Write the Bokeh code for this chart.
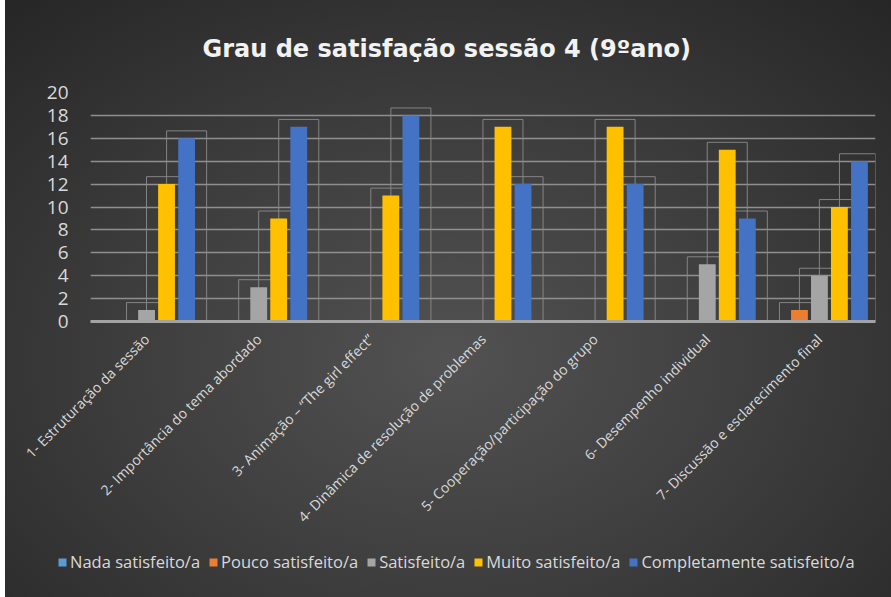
from bokeh.plotting import figure
from bokeh.models import FactorRange, Range1d, FixedTicker, Legend, LegendItem, ColumnDataSource
from bokeh.layouts import column
from bokeh.transform import dodge
from bokeh.embed import file_html
from bokeh.resources import INLINE
import math

categories = [
    "1- Estruturação da sessão",
    "2- Importância do tema abordado",
    "3- Animação – “The girl effect”",
    "4- Dinâmica de resolução de problemas",
    "5- Cooperação/participação do grupo",
    "6- Desempenho individual",
    "7- Discussão e esclarecimento final",
]
series_names = ["Nada satisfeito/a", "Pouco satisfeito/a", "Satisfeito/a",
                "Muito satisfeito/a", "Completamente satisfeito/a"]
nada = [0, 0, 0, 0, 0, 0, 0]
pouco = [0, 0, 0, 0, 0, 0, 1]
satisfeito = [1, 3, 0, 0, 0, 5, 4]
muito = [12, 9, 11, 17, 17, 15, 10]
completamente = [16, 17, 18, 12, 12, 9, 14]
y_ticks = [0, 2, 4, 6, 8, 10, 12, 14, 16, 18, 20]

series_values = [nada, pouco, satisfeito, muito, completamente]
colors = ["#5B9BD5", "#ED7D31", "#A5A5A5", "#FFC000", "#4472C4"]
offsets = [-0.357, -0.178, 0.0, 0.178, 0.357]

W = 886
p = figure(width=W, height=540, output_backend="svg", toolbar_location=None,
           x_range=FactorRange(*categories, range_padding=0),
           y_range=Range1d(0, 20),
           min_border_left=85, min_border_right=16, min_border_top=92, min_border_bottom=219)
p.background_fill_alpha = 0
p.border_fill_alpha = 0
p.outline_line_color = None

p.title.text = "Grau de satisfação sessão 4 (9ºano)"
p.title.align = "left"
p.title.offset = 112
p.title.text_font = "DejaVu Sans"
p.title.text_font_style = "bold"
p.title.text_font_size = "24px"
p.title.text_color = "#f2f2f2"
p.title.standoff = 60

# shadow-like outline boxes (only for bars with a value)
for vals, off in zip(series_values, offsets):
    xs = [c for c, v in zip(categories, vals) if v > 0]
    tops = [v + 0.65 for v in vals if v > 0]
    src = ColumnDataSource(dict(x=xs, top=tops))
    p.vbar(x=dodge("x", off, range=p.x_range), top="top", bottom=-0.15, width=0.357,
           source=src, fill_color=None, line_color="#8c8c8c", line_width=1, line_alpha=0.9)

for vals, col, off in zip(series_values, colors, offsets):
    src = ColumnDataSource(dict(x=categories, top=vals))
    p.vbar(x=dodge("x", off, range=p.x_range), top="top", width=0.15, source=src,
           fill_color=col, line_color=None)

p.ygrid.grid_line_color = "#8f8f8f"
p.ygrid.grid_line_width = 1.5
p.xgrid.grid_line_color = None

p.yaxis.ticker = FixedTicker(ticks=y_ticks)
p.yaxis.axis_line_color = None
p.yaxis.major_tick_line_color = None
p.yaxis.major_tick_out = 0
p.yaxis.major_tick_in = 0
p.yaxis.minor_tick_line_color = None
p.yaxis.major_label_text_font = "Open Sans"
p.yaxis.major_label_text_font_size = "19px"
p.yaxis.major_label_text_color = "#d9d9d9"
p.yaxis.major_label_standoff = 22

p.xaxis.axis_line_color = "#a3a3a3"
p.xaxis.axis_line_width = 3
p.xaxis.major_tick_line_color = None
p.xaxis.major_tick_out = 0
p.xaxis.major_tick_in = 0
p.xaxis.minor_tick_line_color = None
p.xaxis.major_label_orientation = math.pi / 4
p.xaxis.major_label_text_font = "Open Sans"
p.xaxis.major_label_text_font_size = "14px"
p.xaxis.major_label_text_color = "#d9d9d9"
p.xaxis.major_label_standoff = 15

# legend strip (separate figure so the legend is not clipped)
lg = figure(width=W, height=57, output_backend="svg", toolbar_location=None,
            x_range=FactorRange(*categories), y_range=Range1d(100, 101),
            min_border=0, min_border_left=0, min_border_right=0,
            min_border_top=0, min_border_bottom=0)
lg.background_fill_alpha = 0
lg.border_fill_alpha = 0
lg.outline_line_color = None
lg.axis.visible = False
lg.grid.visible = False
for fig in (p, lg):
    try:
        fig.frame_align = False
    except Exception:
        pass
items = []
for name, vals, col in zip(series_names, series_values, colors):
    src = ColumnDataSource(dict(x=categories, top=vals))
    r = lg.vbar(x="x", top="top", width=0.15, source=src, fill_color=col, line_color=None)
    items.append(LegendItem(label=name, renderers=[r]))
legend = Legend(items=items, orientation="horizontal", location=(52, 24),
                background_fill_alpha=0, border_line_color=None,
                label_text_color="#d9d9d9", label_text_font="Open Sans",
                label_text_font_size="16.5px", glyph_width=10, glyph_height=10,
                spacing=8, label_standoff=3, padding=0, margin=0)
lg.add_layout(legend, "center")

layout = column(p, lg, spacing=0)
layout.styles = {"margin-left": "5px",
                 "background": "radial-gradient(ellipse 75% 80% at 50% 60%, #525252 0%, #3f3f3f 45%, #262626 100%)"}

open("out.html", "w").write(file_html(layout, INLINE))
